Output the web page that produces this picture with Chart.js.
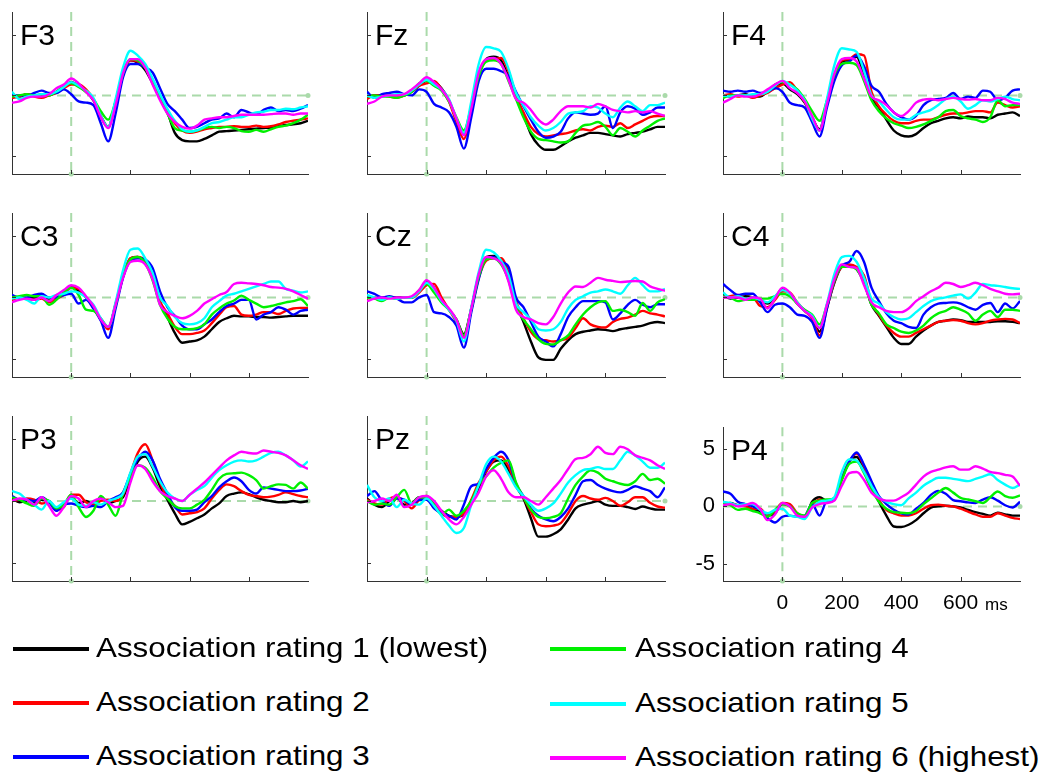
<!DOCTYPE html>
<html>
<head>
<meta charset="utf-8">
<title>ERP by association rating</title>
<script src="https://cdn.jsdelivr.net/npm/chart.js@4.4.1/dist/chart.umd.min.js"></script>
<style>
  body { margin: 0; background: #fff; }
  #page { position: relative; width: 1050px; height: 777px; overflow: hidden; font-family: "Liberation Sans", Arial, sans-serif; }
  #page canvas { position: absolute; }
  .legLine { position: absolute; height: 4px; }
  .legText { position: absolute; font-size: 28px; line-height: 28px; white-space: nowrap; color: #000;
             transform: scaleX(1.12); transform-origin: 0 0; }
</style>
</head>
<body>
<div id="page"></div>
<script>
// time axis (ms) shared by every panel
const times = [-200,-175,-150,-125,-100,-75,-50,-25,0,25,50,75,100,125,150,175,200,225,250,275,300,
               325,350,375,400,425,450,475,500,525,550,575,600,625,650,675,700,725,750,775,800];
const ratingNames = ['Association rating 1 (lowest)', 'Association rating 2', 'Association rating 3',
                     'Association rating 4', 'Association rating 5', 'Association rating 6 (highest)'];
const panelNames = ['F3', 'Fz', 'F4', 'C3', 'Cz', 'C4', 'P3', 'Pz', 'P4'];
const xTickValues = [0, 200, 400, 600];
const yTickValues = [-5, 0, 5];

// amplitudes in µV, one row per rating (1..6)
const F3 = [
  [-0.1,-0.1,0.1,0,0,0,0.3,0.7,1.1,0.8,0.3,-0.4,-1.7,-2.6,-0.5,1.8,2.9,2.7,2.1,1.0,-0.2,-1.4,-3.1,-3.7,-3.8,-3.8,-3.6,-3.3,-3.0,-2.95,-2.9,-2.85,-2.8,-2.75,-2.7,-2.65,-2.55,-2.45,-2.4,-2.3,-2.1],
  [-0.2,-0.1,0.1,-0.1,-0.2,0,0.2,0.6,0.9,0.9,0.5,-0.3,-1.8,-2.6,-0.6,1.7,2.9,2.8,2.3,1.1,-0.1,-1.3,-2.3,-2.9,-3.1,-3.0,-2.8,-2.7,-2.6,-2.6,-2.55,-2.6,-2.6,-2.5,-2.6,-2.55,-2.4,-2.2,-2.1,-2.0,-1.9],
  [0,0,0,0.2,0.4,0.2,0.2,0.5,0.1,-0.5,-0.6,-0.8,-2.3,-3.8,-1.5,1.5,2.6,2.6,2.3,1.9,0.6,-0.7,-1.3,-2.0,-2.7,-2.6,-2.3,-2.0,-1.9,-1.5,-1.8,-1.2,-1.4,-1.6,-1.2,-1.0,-1.3,-1.2,-1.3,-1.1,-0.8],
  [-0.1,0,0.1,0,0.1,0,0.3,0.8,1.0,0.7,0.3,-0.3,-1.3,-2.0,-0.5,1.8,3.0,2.9,2.3,1.1,-0.2,-1.5,-2.7,-2.9,-3.0,-2.9,-2.7,-2.6,-2.7,-2.6,-2.7,-2.95,-3.0,-2.85,-3.0,-2.8,-2.6,-2.5,-2.3,-2.0,-1.6],
  [0.3,-0.3,-0.1,0,0.1,0.1,0.3,0.7,1.1,0.8,0.4,-0.2,-1.7,-2.6,-0.3,2.3,3.7,3.3,2.6,1.4,0.1,-1.1,-2.1,-2.8,-3.0,-2.9,-2.6,-2.3,-2.2,-2.0,-1.8,-1.8,-1.6,-1.4,-1.35,-1.2,-1.2,-1.1,-1.15,-1.0,-0.9],
  [-0.6,-0.5,-0.2,-0.1,-0.1,0.1,0.6,0.9,1.4,1.0,0.3,-0.4,-1.8,-2.7,-0.8,1.8,3.0,3.0,2.3,0.9,-0.4,-1.5,-2.2,-2.6,-2.75,-2.5,-2.0,-1.9,-1.8,-1.8,-1.7,-1.6,-1.6,-1.6,-1.6,-1.55,-1.5,-1.5,-1.6,-1.5,-1.5]
];
const Fz = [
  [-0.1,0,0,0,0,0,0.3,0.8,1.2,1.1,0.6,-0.4,-2.0,-3.2,-1.0,1.7,3.0,3.2,2.9,1.5,-0.2,-1.6,-3.2,-4.1,-4.5,-4.5,-4.2,-3.8,-3.5,-3.3,-3.1,-3.1,-3.2,-3.3,-3.4,-3.2,-3.1,-3.0,-2.8,-2.6,-2.6],
  [-0.3,0,0,-0.1,-0.2,0,0.3,0.8,1.0,1.2,0.5,-0.5,-2.2,-3.6,-1.2,1.6,2.9,3.0,3.1,2.0,0,-1.4,-2.6,-3.2,-3.4,-3.3,-3.2,-3.1,-2.9,-2.8,-2.9,-2.6,-2.5,-2.6,-2.3,-2.7,-2.4,-2.1,-1.8,-1.7,-1.7],
  [0.3,-0.2,0.1,0.2,0.3,0.1,0,0.5,0.3,-0.7,-1.0,-1.4,-2.6,-4.4,-1.8,1.2,2.2,2.2,2.0,1.6,0.3,-0.9,-2.0,-3.0,-3.5,-3.4,-3.0,-1.9,-1.4,-1.5,-1.6,-1.5,-0.9,-2.7,-1.4,-0.9,-1.1,-1.6,-1.4,-1.0,-1.0],
  [-0.1,0,-0.1,-0.1,-0.2,0,0.3,1.0,1.2,0.8,0.4,-0.5,-1.8,-2.9,-0.9,1.6,2.8,2.9,2.6,1.2,-0.3,-1.8,-3.0,-3.6,-3.7,-3.8,-3.9,-3.8,-3.1,-2.5,-2.4,-2.2,-2.6,-3.3,-2.7,-3.0,-3.4,-2.9,-2.5,-2.1,-1.9],
  [0,-0.2,-0.1,0,0.1,0.1,0.4,0.9,1.3,0.9,0.5,-0.3,-1.9,-3.1,-0.5,2.6,4.0,3.9,3.6,2.2,0.2,-0.8,-1.8,-2.5,-2.9,-2.7,-2.2,-1.5,-1.4,-1.3,-0.9,-1.0,-1.5,-1.8,-1.0,-0.5,-0.9,-1.3,-0.8,-0.8,-0.6],
  [-0.7,-0.5,-0.1,0,0,0.1,0.5,1.0,1.5,1.1,0.5,-0.4,-1.9,-3.3,-1.1,1.9,3.0,3.1,2.6,1.3,-0.3,-0.6,-1.2,-2.0,-2.4,-2.0,-1.3,-0.9,-0.9,-0.9,-1.0,-0.7,-0.9,-1.2,-1.3,-1.4,-1.3,-1.4,-1.3,-1.5,-1.7]
];
const F4 = [
  [0,-0.1,0,0.1,-0.1,-0.1,0.3,0.6,1.0,0.5,0.1,-0.6,-1.8,-2.8,-0.6,1.7,2.8,2.9,3.2,1.6,-0.2,-1.0,-2.0,-2.9,-3.3,-3.4,-3.2,-2.7,-2.3,-2.1,-1.9,-1.8,-1.9,-1.75,-1.8,-1.8,-1.9,-1.6,-1.5,-1.4,-1.7],
  [0,0.1,-0.1,0,-0.2,0,0.2,0.6,0.9,1.1,0.4,-0.5,-1.8,-2.9,-0.5,1.6,2.9,3.0,3.4,3.3,0.3,-0.9,-1.6,-2.1,-2.3,-2.3,-2.1,-2.0,-2.0,-1.8,-1.6,-1.5,-1.5,-1.4,-1.3,-1.3,-1.4,-0.6,-0.8,-1.0,-0.9],
  [0.4,0.3,0.4,0.3,0.4,0.2,0.3,0.6,0.3,-0.6,-0.8,-1.0,-2.2,-3.4,-1.0,1.2,2.5,2.8,3.3,2.4,0.8,0.3,-0.7,-1.4,-1.8,-2.0,-1.7,-0.8,-0.4,-0.3,-0.2,0.2,-0.3,-0.1,-0.2,0.4,0.3,-0.4,-0.2,0.4,0.5],
  [-0.2,0,0,0,0,0.1,0.3,0.9,1.1,0.9,0.5,-0.3,-1.3,-2.1,-0.4,1.7,2.6,2.7,2.5,1.2,-0.4,-1.3,-1.9,-2.3,-2.5,-2.7,-2.6,-2.4,-2.1,-1.8,-1.3,-1.2,-1.7,-1.9,-2.0,-2.2,-1.8,-0.4,-0.9,-0.8,-0.8],
  [0,-0.1,0,0,0.1,0.1,0.3,0.8,1.2,0.9,0.4,-0.4,-1.9,-2.9,-0.3,2.5,3.9,3.8,3.6,2.0,0,-0.5,-1.2,-1.8,-2.0,-2.0,-1.6,-1.4,-1.2,-0.8,-0.3,-0.1,-0.5,-1.1,-0.8,-0.4,-0.5,-0.3,-0.1,-0.3,-0.4],
  [-0.6,-0.3,0,-0.1,-0.1,0.1,0.5,0.9,1.2,0.6,0.2,-0.5,-1.7,-2.9,-0.7,1.8,3.0,3.1,2.8,1.4,-0.1,-0.4,-0.8,-1.4,-1.7,-1.3,-0.6,-0.35,-0.3,-0.4,-0.3,-0.2,-0.3,-0.35,-0.3,-0.4,-0.4,-0.2,-0.3,-0.6,-0.7]
];
const C3 = [
  [0,0,-0.1,0,0,-0.1,0,0.4,0.9,0.5,0,-0.8,-1.8,-2.5,-0.6,1.7,3.2,3.3,2.8,1.6,-0.4,-1.6,-2.9,-3.7,-3.6,-3.5,-3.2,-2.6,-2.0,-1.7,-1.5,-1.55,-1.55,-1.6,-1.6,-1.65,-1.6,-1.55,-1.5,-1.5,-1.5],
  [-0.2,0,-0.1,-0.2,-0.1,-0.4,-0.1,0.2,0.8,0.7,0,-0.8,-1.8,-2.6,-0.5,1.7,3.2,3.3,3.0,1.8,-0.3,-1.3,-2.4,-3.0,-3.0,-2.9,-2.7,-2.1,-1.4,-0.8,-0.7,-1.4,-1.5,-1.4,-1.2,-1.2,-1.35,-1.1,-0.9,-0.85,-0.85],
  [0.2,0,0,0.2,0.3,0,0,0.2,0.3,-0.5,-0.2,-0.9,-1.9,-3.3,-0.9,1.6,3.0,3.2,3.1,2.4,0.5,-0.8,-1.5,-2.3,-2.6,-2.6,-2.2,-1.8,-1.2,-0.7,-0.5,-0.2,-0.2,-1.8,-1.4,-1.2,-0.8,-1.0,-1.4,-1.1,-1.0],
  [0,0.1,0.2,0.1,0.1,-0.6,-0.2,0.4,0.8,0.2,-1.0,-1.1,-1.7,-2.4,-0.6,1.8,3.1,3.3,2.8,1.4,-0.6,-1.7,-2.4,-2.6,-2.6,-2.5,-2.2,-1.4,-0.9,-0.5,-0.25,0.15,-0.2,-0.5,-0.8,-0.7,-0.55,-0.4,-0.3,-0.15,-0.7],
  [-0.1,0,-0.2,-0.5,0.1,0,0.2,0.3,0.5,0.4,0,-0.6,-1.7,-2.4,-0.4,2.2,3.9,4.0,3.2,2.0,0,-0.7,-1.6,-2.1,-2.2,-2.1,-1.7,-0.8,-0.3,0.15,0.3,0.5,0.7,0.9,1.1,1.3,1.3,0.7,0.55,0.4,0.5],
  [-0.4,-0.2,-0.1,-0.2,0,-0.3,0.2,0.6,1.0,0.8,0.1,-0.7,-1.8,-2.4,-0.6,1.6,2.9,3.0,2.7,1.5,-0.6,-1.2,-1.5,-1.7,-1.5,-1.1,-0.5,-0.15,0.2,0.45,1.1,1.2,1.15,1.1,1.0,0.85,0.8,0.7,0.5,0.2,-0.1]
];
const Cz = [
  [0,-0.1,0,0,0,0,0,0.5,1.3,0.8,-0.3,-1.0,-1.8,-3.0,-0.9,1.8,3.3,3.4,3.0,1.7,-0.5,-2.0,-3.6,-4.9,-5.1,-5.1,-4.2,-3.5,-3.0,-2.8,-2.7,-2.6,-2.65,-2.75,-2.6,-2.5,-2.4,-2.3,-2.1,-2.0,-2.1],
  [-0.1,0,-0.1,0,-0.1,0,0,0.4,1.0,1.1,0,-1.0,-2.0,-3.2,-1.0,1.6,3.0,3.2,3.2,2.0,-0.3,-1.7,-2.8,-3.4,-3.5,-3.6,-3.5,-3.3,-2.5,-1.7,-2.2,-2.4,-2.45,-2.0,-1.75,-1.65,-1.4,-1.1,-1.3,-1.4,-1.55],
  [0.5,0.3,0,0.1,-0.1,-0.4,-0.4,0,0.2,-1.2,-1.3,-1.6,-2.3,-4.1,-1.2,1.5,3.2,3.3,2.9,2.5,0,-0.8,-2.0,-3.2,-3.6,-4.0,-3.0,-1.6,-0.8,-0.3,-0.3,-0.3,-0.4,-1.8,-1.3,-0.6,-0.2,-0.6,-0.8,-0.55,-0.55],
  [0,-0.1,-0.3,0,-0.1,0,0,0.6,1.1,0.4,-0.4,-1.0,-1.8,-3.1,-0.9,1.7,3.1,3.2,2.7,1.4,-0.8,-1.8,-2.6,-3.4,-3.8,-3.85,-3.5,-3.1,-2.2,-1.4,-0.8,-0.4,-0.3,-1.1,-1.0,-1.2,-1.5,-0.45,-1.1,-0.4,-0.15],
  [0.2,0,-0.2,0,-0.1,0,0,0.5,1.2,0.7,-0.3,-1.0,-1.9,-3.6,-0.8,2.1,3.9,3.7,3.0,1.8,-0.5,-1.2,-1.8,-2.6,-2.7,-2.6,-2.0,-0.9,-0.2,0.1,0.4,0.5,0.65,0.5,0.3,1.0,1.6,1.0,0.5,0.5,0.7],
  [-0.3,-0.1,0,-0.1,0,0,0.1,0.6,1.4,0.8,-0.2,-0.9,-1.8,-3.3,-0.9,1.9,3.3,3.2,2.8,1.3,-1.0,-1.6,-1.8,-2.1,-2.2,-1.6,-0.5,0.4,0.9,0.85,1.2,1.6,1.45,1.35,1.25,1.3,1.35,1.3,0.9,0.7,0.55]
];
const C4 = [
  [0.2,-0.1,0,0.1,0,-0.3,-0.5,0,0.7,0.3,-0.5,-1.1,-1.6,-2.8,-0.8,1.2,2.5,2.6,2.3,1.2,-0.6,-1.5,-2.4,-3.3,-3.8,-3.8,-3.2,-2.7,-2.3,-2.0,-1.9,-1.8,-1.85,-2.0,-2.0,-2.0,-2.0,-1.95,-1.95,-2.0,-2.1],
  [0,0.1,0.2,-0.1,0,-0.7,-0.8,-0.2,0.5,0.4,-0.4,-1.1,-1.7,-3.1,-0.9,1.3,2.5,2.7,2.5,1.8,-0.4,-1.4,-2.3,-2.9,-3.2,-3.2,-2.9,-2.6,-2.3,-2.0,-1.9,-1.85,-1.9,-2.1,-2.2,-2.1,-1.9,-1.8,-1.75,-1.8,-2.1],
  [1.1,0.6,0.2,0.3,0.3,-0.4,-1.2,-0.6,-0.5,-0.8,-1.4,-1.5,-2.0,-3.3,-0.9,1.4,2.6,2.9,3.8,2.9,0.8,-0.3,-1.3,-1.9,-2.1,-2.4,-2.5,-1.4,-0.8,-0.5,-0.45,-0.4,-0.5,-0.8,-1.0,-0.6,-0.45,-1.2,-0.5,-0.9,-0.3],
  [0.1,0,-0.3,-0.2,-0.2,-0.1,-0.1,0.1,0.3,0.1,-0.5,-1.0,-1.4,-2.2,-0.6,1.4,2.5,2.5,2.3,1.2,-0.6,-1.3,-2.2,-2.5,-2.8,-2.9,-2.7,-2.3,-1.7,-1.3,-1.1,-0.8,-1.0,-1.3,-1.9,-1.4,-1.1,-1.6,-1.0,-1.0,-1.1],
  [0.4,0,0.1,-0.1,0,-0.2,-0.4,0.1,0.6,0.3,-0.4,-1.1,-1.5,-2.5,-0.5,1.9,3.3,3.4,2.9,1.6,-0.1,-0.5,-1.2,-1.6,-1.8,-1.7,-1.2,-0.7,-0.3,-0.1,0,0.15,0.25,-0.1,0.4,1.1,1.0,0.95,0.85,0.75,0.7],
  [0,0,0,-0.2,0,-0.1,-0.9,-0.1,0.8,0.4,-0.5,-1.1,-1.6,-2.5,-0.6,1.5,2.7,2.5,2.4,1.0,-0.4,-0.8,-1.1,-1.2,-1.2,-0.9,-0.3,0.1,0.5,0.8,1.2,1.1,0.85,1.0,1.2,1.0,0.7,0.5,0.3,0.25,0.3]
];
const P3 = [
  [0.2,-0.1,0,-0.2,0.1,0,-0.6,-0.3,0.3,-0.2,0,-0.3,0.3,-0.2,0,0.3,1.8,3.2,3.6,2.7,1.2,0.1,-1.0,-1.9,-1.7,-1.4,-1.1,-0.6,-0.2,0.4,0.6,0.7,0.55,0.3,0.1,0,-0.1,-0.1,0,-0.1,0],
  [0,0.1,0.2,0.1,-0.2,-0.1,-0.7,-0.5,0.5,0.5,-0.1,-0.3,0,0.1,0,0.5,2.2,3.9,4.6,3.3,1.5,0.3,-0.4,-1.1,-1.0,-0.9,-0.6,0.2,0.9,1.35,1.2,0.8,0.5,0.4,0.3,0.35,0.5,0.7,0.55,0.4,0.3],
  [0.4,0.1,0.1,0,0.3,-0.1,-0.8,-0.3,-0.2,-0.4,-0.5,-0.4,-0.5,0,0.3,0.7,2.2,3.4,4.0,3.3,1.8,0.6,-0.5,-0.8,-0.8,-0.7,-0.1,0.4,1.1,1.6,1.9,1.6,0.9,0.6,1.1,1.0,0.9,0.8,0.8,0.85,1.0],
  [0.3,0.1,-0.2,-0.4,0.2,0,-0.6,-0.3,0.5,-0.5,-1.3,-0.8,0.4,-0.3,-1.2,0.6,1.9,2.9,2.7,1.9,0.8,0.2,-0.4,-0.6,-0.6,-0.3,0.1,0.9,1.8,2.2,2.25,2.3,2.1,1.7,1.0,1.2,1.35,1.3,1.0,1.5,1.0],
  [0.8,0.6,0.1,-0.3,-0.7,0,-0.5,-0.1,0.2,-0.3,-0.4,-0.1,-0.3,0,0.2,0.6,2.3,3.6,3.8,2.8,1.6,0.7,0.2,0,0.5,0.9,1.2,1.9,2.5,2.9,3.2,3.3,3.2,3.3,3.6,3.9,4.0,3.7,3.3,2.8,3.2],
  [0,0.2,0.1,-0.3,0.3,-0.4,-1.2,-0.5,0.4,0.2,-0.5,0,0.2,-0.1,-0.5,-0.4,1.5,2.9,2.6,1.6,0.8,0.4,0.2,0,0.5,1.0,1.5,2.1,2.7,3.3,3.7,4.0,3.9,3.85,4.1,4.0,3.9,3.7,3.3,2.9,2.6]
];
const Pz = [
  [0.2,-0.3,-0.5,0,0.3,-0.3,-0.2,0.3,0.3,-0.3,-0.8,-1.2,-1.3,-1.1,0,1.0,2.4,3.2,3.3,2.5,1.2,0.2,-1.4,-2.9,-2.9,-2.7,-2.3,-1.5,-0.6,-0.3,-0.15,0,-0.3,-0.4,-0.4,-0.5,-0.65,-0.45,-0.6,-0.7,-0.7],
  [0.1,-0.2,-0.3,0.2,0.3,0,-0.6,0.1,0.4,-0.3,-1.0,-1.3,-1.3,-1.0,0.1,1.5,2.4,3.3,3.6,2.8,1.3,0.3,-0.9,-1.9,-2.05,-2.0,-1.8,-1.0,0,0.4,0.2,0.1,0.25,0,-0.4,-0.1,0.3,0.3,-0.15,-0.45,-0.55],
  [0.4,0.8,0,-0.4,0.2,0.1,-0.3,0.1,0.1,-0.6,-1.0,-1.2,-1.5,-0.3,1.2,1.4,2.6,3.5,4.0,3.3,1.4,0.4,-0.6,-1.2,-1.5,-1.65,-1.3,-0.6,0.5,1.6,1.7,1.3,1.0,0.8,0.7,0.9,1.2,1.0,0.8,0.3,1.1],
  [0,-0.3,-0.2,-0.3,0.3,0.9,-0.2,0.3,0.3,-0.3,-1.1,-0.7,-1.2,-0.8,0,1.3,2.0,2.7,3.1,3.3,1.5,0.3,-0.7,-1.3,-1.4,-1.3,-1.0,0.2,1.3,2.0,2.5,2.3,1.8,1.6,1.4,1.3,1.6,2.2,1.7,1.8,1.4],
  [1.3,0.3,0,0.2,-0.5,0.1,-0.2,-0.3,0.2,-0.4,-1.2,-2.0,-2.6,-2.2,-0.3,1.3,3.0,3.6,3.2,2.2,1.1,0.4,-0.3,-0.8,-0.6,-0.2,0.6,1.5,2.1,2.5,2.6,2.75,2.6,2.6,3.3,4.0,3.7,3.2,2.7,2.7,3.1],
  [-0.1,0,0.2,0,0.5,-0.5,-0.3,0.3,0.4,0,-0.8,-1.5,-1.9,-1.3,-0.3,0.7,2.0,2.5,1.8,0.7,0.3,0.3,0,-0.3,0.3,1.0,1.7,2.6,3.4,3.5,3.8,4.4,3.9,3.8,4.4,4.2,3.7,3.5,3.3,2.9,2.6]
];
const P4 = [
  [0.2,0.3,0.1,0.1,-0.3,-0.4,-0.8,-0.6,0.2,0.1,-0.7,-1.0,0.4,0.8,0.5,0.6,2.4,3.9,4.3,3.2,1.8,0.4,-0.8,-1.75,-1.8,-1.6,-1.2,-0.6,-0.1,0,0.05,0,-0.1,-0.3,-0.5,-0.65,-0.8,-0.55,-0.7,-0.8,-0.8],
  [0.2,0.2,0.1,0,-0.2,-0.2,-0.8,-0.4,0.3,0.2,-0.6,-0.9,0.1,0.6,0.4,0.6,2.4,3.9,4.6,3.5,2.0,0.6,-0.3,-0.6,-0.8,-0.8,-0.6,-0.2,0.1,0.15,0.05,0,-0.2,-0.45,-0.7,-0.9,-0.9,-0.6,-0.8,-1.0,-1.1],
  [1.3,1.1,0.4,0.2,0,-0.3,-1.0,-1.4,-0.9,-0.8,-0.9,-0.8,0.2,-0.8,0.5,0.6,2.4,3.9,4.7,3.6,2.2,0.9,0.2,-0.3,-0.6,-0.7,-0.2,0.3,1.0,1.35,1.1,0.55,0.45,0.35,0.3,0.6,0.8,0.5,0.1,-0.1,0.4],
  [0.3,0.1,-0.3,-0.2,-0.4,-0.6,-0.9,-0.3,0.2,0,-0.6,-0.8,0.3,0.5,0.6,0.7,2.3,3.7,3.9,2.9,1.5,0.4,-0.2,-0.5,-0.55,-0.6,-0.4,0.2,0.7,1.2,1.6,1.2,0.75,0.6,0.45,0.3,0.8,1.3,0.9,0.75,0.95],
  [0.4,0.3,0.1,0.2,0.2,-0.3,-0.6,-0.3,-0.2,-0.8,-0.9,-1.1,-0.1,0.4,0.5,0.8,3.0,4.1,4.0,3.0,1.8,0.8,0.4,0.2,0.1,0.7,1.2,1.8,2.2,2.5,2.5,2.4,2.3,2.2,2.4,2.6,2.8,2.3,1.9,1.6,1.9],
  [0.1,0.2,0,0.1,0.3,-0.2,-1.2,-0.7,0.3,0,-0.8,-0.9,-0.1,0.2,0.3,0.5,1.8,2.9,3.0,2.3,1.2,0.7,0.5,0.5,0.8,1.2,1.9,2.6,3.0,3.2,3.4,3.5,3.2,3.2,3.5,3.3,3.0,2.9,2.75,2.6,1.8]
];
const panelData = [F3, Fz, F4, C3, Cz, C4, P3, Pz, P4];

const ratingColors = ['#000000', '#ff0000', '#0000ff', '#00f000', '#00ffff', '#ff00ff'];
const zeroColor = 'rgb(170,218,170)';
const axisColor = '#333';

// plot-area edges in page pixels
const colLeft = [12, 367, 723], colRight = [308, 665, 1020];
const rowTop = [12, 213, 416], rowBottom = [174, 377, 581];
const padL = 40, padT = 10, padR = 30, padB = 45;

const page = document.getElementById('page');

const decor = {
  id: 'decor',
  beforeDatasetsDraw(chart) {
    const { ctx, chartArea: a, scales: { x, y } } = chart;
    const x0 = x.getPixelForValue(0), y0 = y.getPixelForValue(0);
    ctx.save();
    ctx.strokeStyle = zeroColor;
    ctx.lineWidth = 2;
    ctx.setLineDash([9, 6]);
    ctx.beginPath();
    ctx.moveTo(x0, a.top); ctx.lineTo(x0, a.bottom);
    ctx.moveTo(a.left, y0); ctx.lineTo(a.right, y0);
    ctx.stroke();
    ctx.setLineDash([]);
    ctx.fillStyle = zeroColor;
    ctx.beginPath(); ctx.arc(x0, a.bottom, 2.5, 0, Math.PI * 2); ctx.fill();
    ctx.beginPath(); ctx.arc(a.right, y0, 2.5, 0, Math.PI * 2); ctx.fill();
    ctx.restore();
  },
  afterDraw(chart, args, opts) {
    const { ctx, chartArea: a, scales: { x, y } } = chart;
    ctx.save();
    // inward tick marks
    ctx.strokeStyle = axisColor;
    ctx.lineWidth = 1;
    ctx.beginPath();
    xTickValues.forEach(v => {
      const px = Math.round(x.getPixelForValue(v)) + 0.5;
      ctx.moveTo(px, a.bottom); ctx.lineTo(px, a.bottom - 4);
    });
    yTickValues.forEach(v => {
      const py = Math.round(y.getPixelForValue(v)) + 0.5;
      ctx.moveTo(a.left, py); ctx.lineTo(a.left + 4, py);
    });
    ctx.stroke();
    // electrode name
    ctx.fillStyle = '#000';
    ctx.font = '30px "Liberation Sans", Arial, sans-serif';
    ctx.textBaseline = 'alphabetic';
    ctx.fillText(opts.name, a.left + 8, a.top + 33);
    if (opts.showLabels) {
      ctx.font = '17px "Liberation Sans", Arial, sans-serif';
      ctx.fillText('ms', a.right - 35, a.bottom + 29);
    }
    ctx.restore();
  }
};

panelNames.forEach((name, i) => {
  const c = i % 3, r = Math.floor(i / 3);
  const plotW = colRight[c] - colLeft[c], plotH = rowBottom[r] - rowTop[r];
  const cv = document.createElement('canvas');
  cv.width = padL + plotW + padR;
  cv.height = padT + plotH + padB;
  cv.style.left = (colLeft[c] - padL) + 'px';
  cv.style.top = (rowTop[r] - padT) + 'px';
  page.appendChild(cv);
  const showLabels = (i === 8);

  new Chart(cv, {
    type: 'line',
    data: {
      datasets: panelData[i].map((vals, k) => ({
        label: ratingNames[k],
        data: times.map((t, j) => ({ x: t, y: vals[j] })),
        borderColor: ratingColors[k],
        borderWidth: 2.4,
        pointRadius: 0,
        cubicInterpolationMode: 'monotone',
        order: 6 - k
      }))
    },
    options: {
      responsive: false,
      animation: false,
      devicePixelRatio: 1,
      layout: { padding: { left: 0, top: padT, right: padR, bottom: 0 } },
      plugins: {
        legend: { display: false },
        tooltip: { enabled: false },
        decor: { name: name, showLabels: showLabels }
      },
      scales: {
        x: {
          type: 'linear', min: -200, max: 800,
          grid: { display: false, drawTicks: false },
          border: { display: true, color: axisColor, width: 1 },
          afterBuildTicks: s => { s.ticks = xTickValues.map(v => ({ value: v })); },
          afterFit: s => { s.height = padB; },
          ticks: { display: showLabels, padding: 10, color: '#000', maxRotation: 0,
                   font: { family: '"Liberation Sans", Arial, sans-serif', size: 21 } }
        },
        y: {
          min: -6.5, max: 6.9,
          grid: { display: false, drawTicks: false },
          border: { display: true, color: axisColor, width: 1 },
          afterBuildTicks: s => { s.ticks = yTickValues.map(v => ({ value: v })); },
          afterFit: s => { s.width = padL; },
          ticks: { display: showLabels, padding: 8, color: '#000',
                   font: { family: '"Liberation Sans", Arial, sans-serif', size: 22 } }
        }
      }
    },
    plugins: [decor]
  });
});

// legend, built as plain page text
const legendSpots = [
  { line: [13, 649], text: [96, 634] },
  { line: [13, 703], text: [96, 688] },
  { line: [13, 757], text: [96, 742] },
  { line: [550, 649], text: [635, 634] },
  { line: [550, 704], text: [635, 689] },
  { line: [550, 758], text: [635, 743] }
];
ratingNames.forEach((label, k) => {
  const s = legendSpots[k];
  const ln = document.createElement('div');
  ln.className = 'legLine';
  ln.style.left = s.line[0] + 'px';
  ln.style.top = (s.line[1] - 2) + 'px';
  ln.style.width = '76px';
  ln.style.background = ratingColors[k];
  page.appendChild(ln);
  const tx = document.createElement('div');
  tx.className = 'legText';
  tx.style.left = s.text[0] + 'px';
  tx.style.top = s.text[1] + 'px';
  tx.textContent = label;
  page.appendChild(tx);
});
</script>
</body>
</html>
